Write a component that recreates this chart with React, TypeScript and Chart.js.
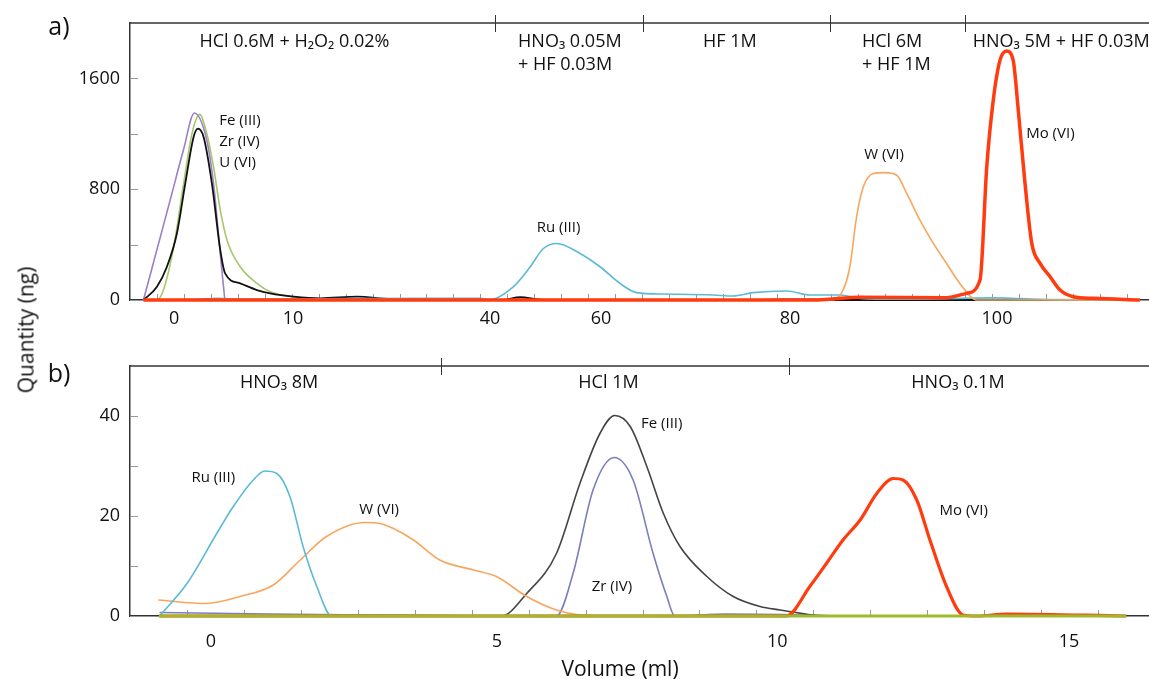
import React, { useEffect, useRef } from "react";
import { Chart, registerables } from "chart.js";

Chart.register(...registerables);

const FONT = '"Open Sans", "DejaVu Sans", sans-serif';
const AXIS = "#333333";
const TICKC = "#999999";
const TXT = "#111111";

type P = [number, number];

// ================= Panel a (x in fraction-index units) =================
const aXLabels = ["0", "10", "40", "60", "80", "100"];
const aXLabelPos = [0.64, 5.05, 12.36, 16.48, 23.49, 31.17];
const aYLabels = [0, 800, 1600];
const aYMinor = [0, 400, 800, 1200, 1600];
const aSeparators = [12.55, 18.04, 24.97, 29.98];
const aRegionText = [["HCl 0.6M + H\u2082O\u2082 0.02%"], ["HNO\u2083 0.05M", "+ HF 0.03M"], ["HF 1M"], ["HCl 6M", "+ HF 1M"], ["HNO\u2083 5M + HF 0.03M"]];
const aRegionX = [5.1, 13.4, 21.26, 26.16, 30.27];
const aRegionAlign = ["center", "left", "center", "left", "left"];
const aRegionY = 1867;
const aNoteText = ["Fe (III)", "Zr (IV)", "U (VI)", "Ru (III)", "W (VI)", "Mo (VI)"];
const aNoteX = [2.31, 2.31, 2.31, 14.9, 26.98, 33.15];
const aNoteY = [1292, 1141, 990, 519, 1052, 1204];
const aNoteAlign = ["left", "left", "left", "center", "center", "center"];

const aMo: P[] = [[-0.5, 0], [10, 0], [24.5, 0], [26.1, 20], [29.3, 17], [30.04, 48], [30.54, 144], [30.79, 961], [31.03, 1441], [31.28, 1730], [31.53, 1797], [31.77, 1730], [31.96, 1369], [32.21, 841], [32.46, 409], [32.77, 264], [33.14, 168], [33.51, 72], [34.0, 24], [34.74, 12], [36.47, 0]];
const aW: P[] = [[-0.5, 0], [24.97, 0], [25.46, 72], [25.71, 240], [25.96, 600], [26.21, 817], [26.58, 913], [27.01, 920], [27.45, 901], [27.82, 769], [28.31, 577], [28.81, 409], [29.3, 264], [29.79, 120], [30.42, 0], [36.47, 0]];
const aRu: P[] = [[-0.5, 0], [1.5, 5], [2.2, 12], [3, 6], [6, 8], [10, 12], [12, 12], [12.36, 3], [13.23, 96], [13.85, 240], [14.34, 372], [14.83, 408], [15.7, 336], [16.44, 240], [17.18, 120], [17.8, 53], [18.79, 43], [20.63, 36], [21.37, 29], [22.12, 53], [23.37, 65], [24.23, 36], [25.35, 36], [26.09, 12], [27.58, 5], [31.03, 15], [32.03, 10], [33.5, 3], [36.47, 0]];
const aFe: P[] = [[-0.5, 0], [0, 96], [0.37, 240], [0.74, 480], [1.05, 841], [1.36, 1177], [1.52, 1237], [1.73, 1177], [2.04, 841], [2.35, 360], [2.53, 192], [3.09, 120], [3.71, 72], [4.2, 48], [5.07, 24], [6.06, 12], [7.42, 24], [8.65, 8], [12, 0], [12.8, 0], [13.48, 20], [14.2, 3], [15, 0], [36.47, 0]];
const aZr: P[] = [[-0.5, 0], [0.49, 721], [0.98, 1081], [1.39, 1350], [1.85, 1153], [2.1, 841], [2.28, 480], [2.47, 96], [2.53, 0], [22, 0], [23.2, 8], [25, 4], [26, 0], [36.47, 0]];
const aU: P[] = [[-0.5, 0], [0, 0], [0.24, 72], [0.62, 384], [0.99, 841], [1.3, 1201], [1.58, 1340], [1.85, 1201], [2.1, 961], [2.35, 649], [2.6, 432], [3.09, 240], [3.71, 120], [4.2, 60], [5.01, 24], [6.06, 8], [8, 0], [36.47, 0]];

// ================= Panel b (x in ml) =================
const bXLabels = ["0", "5", "10", "15"];
const bXLabelPos = [0, 5, 9.9, 15];
const bYLabels = [0, 20, 40];
const bYMinor = [0, 10, 20, 30, 40];
const bSeparators = [4.02, 10.1];
const bRegionText = [["HNO\u2083 8M"], ["HCl 1M"], ["HNO\u2083 0.1M"]];
const bRegionX = [1.19, 6.95, 13.06];
const bRegionAlign = ["center", "center", "center"];
const bRegionY = 46.6;
const bNoteText = ["Ru (III)", "W (VI)", "Fe (III)", "Zr (IV)", "Mo (VI)"];
const bNoteX = [0.04, 2.94, 7.88, 7.01, 13.16];
const bNoteY = [27.7, 21.2, 38.4, 5.8, 21];
const bNoteAlign = ["center", "center", "center", "center", "center"];

const bMo: P[] = [[-0.9, 0], [10.06, 0], [10.47, 5.9], [10.76, 10.5], [11.05, 15.2], [11.35, 19.2], [11.64, 24.5], [11.93, 27.5], [12.1, 27.2], [12.34, 23.2], [12.57, 15.2], [12.86, 5.9], [13.15, 0.2], [13.4, 0], [13.91, 0.4], [16, 0]];
const bW: P[] = [[-0.92, 3.2], [-0.08, 2.5], [0.51, 3.9], [1.09, 6.2], [1.56, 11.2], [2.02, 15.9], [2.69, 18.7], [2.95, 18.5], [3.19, 17.5], [3.54, 15.2], [4.0, 11.2], [4.59, 9.2], [4.99, 7.9], [5.52, 3.9], [6.04, 1.2], [6.45, 0.2], [7, 0]];
const bRu: P[] = [[-0.9, 0], [-0.42, 6.5], [0.1, 16.5], [0.39, 21.9], [0.74, 27.2], [0.94, 29], [1.15, 28.5], [1.38, 23.9], [1.61, 13.9], [1.85, 5.9], [2.11, 0], [16, 0]];
const bFe: P[] = [[-0.9, 0], [5.08, 0], [5.52, 4.5], [6.04, 12.5], [6.45, 26.5], [6.8, 36.5], [7.06, 40.1], [7.33, 37.9], [7.62, 29.9], [7.91, 20.5], [8.2, 13.9], [8.67, 7.9], [9.13, 3.9], [9.6, 1.9], [9.95, 1.2], [10.53, 0.2], [10.88, 0]];
const bZr: P[] = [[-0.9, 0.7], [1, 0.4], [3, 0.2], [5, 0], [6.04, 0], [6.33, 8.5], [6.68, 25.2], [7.05, 31.7], [7.38, 27.2], [7.73, 12.5], [7.97, 3.9], [8.11, 0], [9, 0.4], [10, 0.3], [11, 0]];
const bU: P[] = [[-0.91, 0], [16, 0]];

type Series = { name: string; pts: P[]; color: string; width: number };
type PanelCfg = {
  key: string;
  height: number;
  padTop: number;
  xAxisH: number;
  xPad: number;
  xMin: number;
  xMax: number;
  yMax: number;
  xLabels: string[];
  xLabelPos: number[];
  xMinor: number[];
  yLabels: number[];
  yMinor: number[];
  separators: number[];
  regionText: string[][];
  regionX: number[];
  regionAlign: string[];
  regionY: number;
  noteText: string[];
  noteX: number[];
  noteY: number[];
  noteAlign: string[];
  series: Series[];
};

const panelA: PanelCfg = {
  key: "a",
  height: 340,
  padTop: 23,
  xAxisH: 40,
  xPad: 8,
  xMin: -1,
  xMax: 36.81,
  yMax: 2000,
  xLabels: aXLabels,
  xLabelPos: aXLabelPos,
  xMinor: Array.from({ length: 37 }, (_, i) => i),
  yLabels: aYLabels,
  yMinor: aYMinor,
  separators: aSeparators,
  regionText: aRegionText,
  regionX: aRegionX,
  regionAlign: aRegionAlign,
  regionY: aRegionY,
  noteText: aNoteText,
  noteX: aNoteX,
  noteY: aNoteY,
  noteAlign: aNoteAlign,
  series: [
    { name: "Mo (VI)", pts: aMo, color: "#ff3b0f", width: 3.5 },
    { name: "W (VI)", pts: aW, color: "#f8a65e", width: 1.6 },
    { name: "Ru (III)", pts: aRu, color: "#5bbad5", width: 1.6 },
    { name: "Fe (III)", pts: aFe, color: "#111111", width: 1.8 },
    { name: "Zr (IV)", pts: aZr, color: "#9a80c6", width: 1.6 },
    { name: "U (VI)", pts: aU, color: "#a6c86a", width: 1.6 },
  ],
};

const panelB: PanelCfg = {
  key: "b",
  height: 339,
  padTop: 26,
  xAxisH: 63,
  xPad: 15,
  xMin: -1.416,
  xMax: 16.4,
  yMax: 50,
  xLabels: bXLabels,
  xLabelPos: bXLabelPos,
  xMinor: Array.from({ length: 17 }, (_, i) => -0.42 + i * 0.9956),
  yLabels: bYLabels,
  yMinor: bYMinor,
  separators: bSeparators,
  regionText: bRegionText,
  regionX: bRegionX,
  regionAlign: bRegionAlign,
  regionY: bRegionY,
  noteText: bNoteText,
  noteX: bNoteX,
  noteY: bNoteY,
  noteAlign: bNoteAlign,
  series: [
    { name: "U (VI)", pts: bU, color: "#9cbb2c", width: 3 },
    { name: "Mo (VI)", pts: bMo, color: "#ff3b0f", width: 3.2 },
    { name: "Ru (III)", pts: bRu, color: "#5bbad5", width: 1.6 },
    { name: "W (VI)", pts: bW, color: "#f8a65e", width: 1.6 },
    { name: "Fe (III)", pts: bFe, color: "#444444", width: 1.6 },
    { name: "Zr (IV)", pts: bZr, color: "#7b7fb8", width: 1.6 },
  ],
};

function decor(p: PanelCfg) {
  return {
    id: "decor" + p.key,
    beforeDatasetsDraw(chart: any) {
      const { ctx, chartArea: ca, scales } = chart;
      const xs = scales.x;
      const ys = scales.y;
      ctx.save();
      ctx.strokeStyle = TICKC;
      ctx.lineWidth = 1;
      ctx.beginPath();
      for (const t of p.xMinor) {
        const px = Math.round(xs.getPixelForValue(t)) + 0.5;
        ctx.moveTo(px, ca.bottom);
        ctx.lineTo(px, ca.bottom - 6);
      }
      for (const t of p.yMinor) {
        const py = Math.round(ys.getPixelForValue(t)) + 0.5;
        ctx.moveTo(ca.left, py);
        ctx.lineTo(ca.left + 8, py);
      }
      ctx.stroke();
      ctx.restore();
    },
    afterDatasetsDraw(chart: any) {
      const { ctx, chartArea: ca, scales } = chart;
      const xs = scales.x;
      const ys = scales.y;
      ctx.save();
      ctx.strokeStyle = AXIS;
      ctx.lineWidth = 1.5;
      ctx.beginPath();
      ctx.moveTo(ca.left, ca.top);
      ctx.lineTo(ca.right, ca.top);
      ctx.stroke();
      ctx.lineWidth = 1;
      ctx.beginPath();
      for (const s of p.separators) {
        const px = Math.round(xs.getPixelForValue(s)) + 0.5;
        ctx.moveTo(px, ca.top - 8);
        ctx.lineTo(px, ca.top + 9);
      }
      ctx.stroke();
      ctx.fillStyle = TXT;
      ctx.textBaseline = "middle";
      ctx.font = `18px ${FONT}`;
      p.regionText.forEach((lines, i) => {
        ctx.textAlign = p.regionAlign[i] as CanvasTextAlign;
        const px = xs.getPixelForValue(p.regionX[i]);
        const py = ys.getPixelForValue(p.regionY);
        lines.forEach((ln, j) => ctx.fillText(ln, px, py + j * 23));
      });
      ctx.font = `15px ${FONT}`;
      p.noteText.forEach((t, i) => {
        ctx.textAlign = p.noteAlign[i] as CanvasTextAlign;
        ctx.fillText(t, xs.getPixelForValue(p.noteX[i]), ys.getPixelForValue(p.noteY[i]));
      });
      ctx.restore();
    },
  };
}

function buildConfig(p: PanelCfg): any {
  return {
    type: "line",
    data: {
      datasets: p.series.map((s) => ({
        label: s.name,
        data: s.pts.map(([x, y]) => ({ x, y })),
        borderColor: s.color,
        backgroundColor: s.color,
        borderWidth: s.width,
        pointRadius: 0,
        cubicInterpolationMode: "monotone",
        fill: false,
        clip: 4,
      })),
    },
    options: {
      responsive: false,
      animation: false,
      devicePixelRatio: 1,
      layout: { padding: { top: p.padTop, left: 0, right: 0, bottom: 0 } },
      plugins: { legend: { display: false }, tooltip: { enabled: false } },
      scales: {
        x: {
          type: "linear",
          min: p.xMin,
          max: p.xMax,
          afterBuildTicks: (s: any) => {
            s.ticks = p.xLabelPos.map((v) => ({ value: v }));
          },
          afterFit: (s: any) => {
            s.height = p.xAxisH;
          },
          ticks: {
            autoSkip: false,
            maxRotation: 0,
            padding: p.xPad,
            color: TXT,
            font: { family: FONT, size: 18 },
            callback: (_v: any, i: number) => p.xLabels[i],
          },
          grid: { display: false, drawTicks: false },
          border: { display: true, color: AXIS, width: 1.5 },
        },
        y: {
          type: "linear",
          min: 0,
          max: p.yMax,
          afterBuildTicks: (s: any) => {
            s.ticks = p.yLabels.map((v) => ({ value: v }));
          },
          afterFit: (s: any) => {
            s.width = 130;
          },
          ticks: {
            padding: 10,
            color: TXT,
            font: { family: FONT, size: 18 },
            callback: (v: any) => String(v),
          },
          grid: { display: false, drawTicks: false },
          border: { display: true, color: AXIS, width: 1.5 },
        },
      },
    },
    plugins: [decor(p)],
  };
}

function Panel({ cfg, top }: { cfg: PanelCfg; top: number }) {
  const ref = useRef<HTMLCanvasElement>(null);
  useEffect(() => {
    const chart = new Chart(ref.current as HTMLCanvasElement, buildConfig(cfg));
    return () => chart.destroy();
  }, [cfg]);
  return (
    <canvas
      ref={ref}
      width={1149}
      height={cfg.height}
      style={{ position: "absolute", left: 0, top, width: 1149, height: cfg.height, display: "block" }}
    />
  );
}

const centered = (x: number, y: number, size: number, extra: string = ""): React.CSSProperties => ({
  position: "absolute",
  left: x,
  top: y,
  fontSize: size,
  lineHeight: 1,
  whiteSpace: "nowrap",
  transform: `translate(-50%, -50%) ${extra}`,
});

export default function App() {
  return (
    <div
      style={{
        position: "fixed",
        left: 0,
        top: 0,
        width: 1149,
        height: 679,
        overflow: "hidden",
        background: "#ffffff",
        fontFamily: FONT,
        color: TXT,
      }}
    >
      <Panel cfg={panelA} top={0} />
      <Panel cfg={panelB} top={340} />
      <div style={centered(59, 25, 25)}>a)</div>
      <div style={centered(59, 372, 25)}>b)</div>
      <div style={centered(26, 330, 21, "rotate(-90deg)")}>Quantity (ng)</div>
      <div style={centered(620, 668, 21)}>Volume (ml)</div>
    </div>
  );
}
